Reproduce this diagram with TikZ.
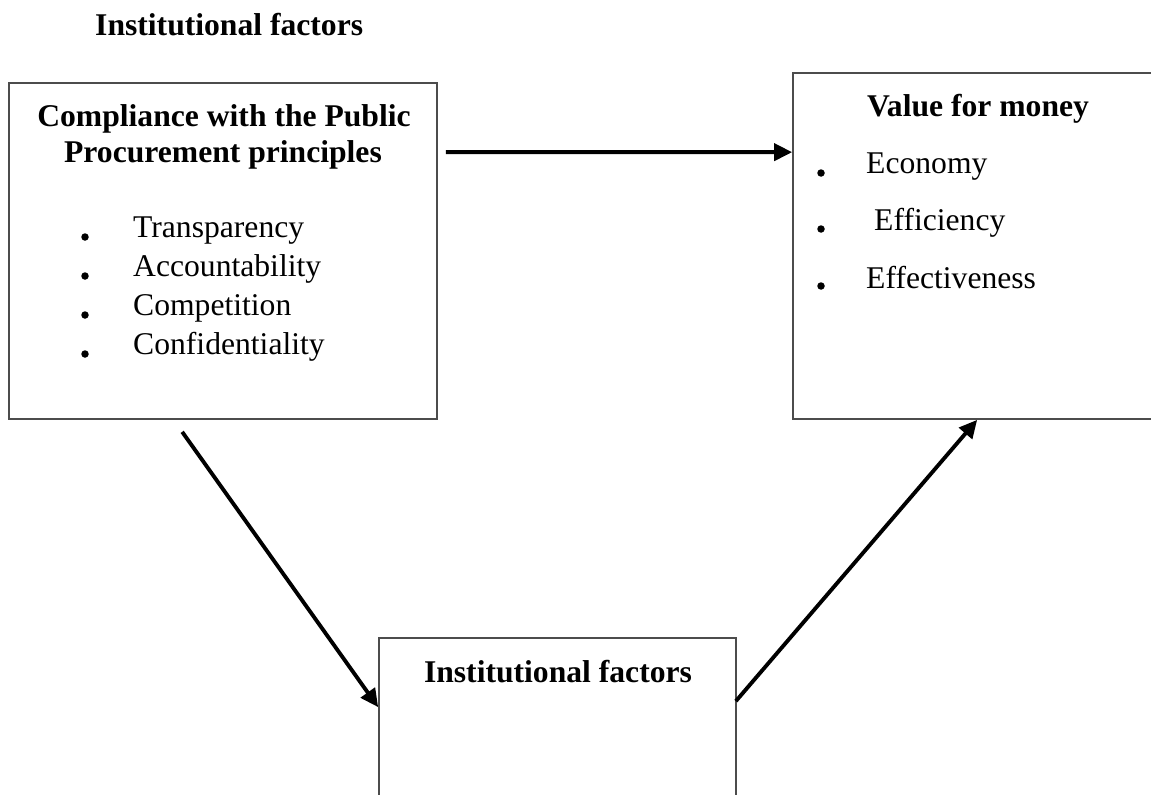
\documentclass[tikz,border=0pt]{standalone}
\usepackage{fontspec}
\setmainfont{Liberation Serif}
\usepackage{tikz}
\usetikzlibrary{positioning, arrows.meta}

\begin{document}
\begin{tikzpicture}
                [
                x=0.02cm, y=-0.02cm,
                box/.style={draw=black!70,line width=1pt,inner sep=0pt},
                head/.style={font=\bfseries\fontsize{18}{20.5}\selectfont,anchor=base},
                item/.style={font=\fontsize{18}{22}\selectfont,anchor=base west},
                link/.style={-{Triangle[length=0.36cm,width=0.34cm]},line width=2.2pt}
                ]
            \useasboundingbox (0,0) rectangle (1151,794);
            \node[head,anchor=base west] (title) at (89,36) {Institutional factors};
            % the three boxes
            \node[box,minimum width=8.56cm,minimum height=6.72cm] (comp) at (223,251) {};
            \node[box,minimum width=7.2cm,minimum height=6.92cm] (vfm) at (973,246) {};
            \node[box,minimum width=7.14cm,minimum height=3.24cm] (inst) at (557.5,719) {};
            % left box
            \node[head] (comph1) at (224,126) {Compliance with the Public};
            \node[head] (comph2) at (223,162) {Procurement principles};
            \node[item] (transp) at (127,237) {Transparency};
            \node[item] (account) at (127,276) {Accountability};
            \node[item] (compet) at (127,315) {Competition};
            \node[item] (confid) at (127,354) {Confidentiality};
            \foreach \y in {237,276,315,354}
                \fill (85,\y) circle[radius=0.075cm];
            % right box
            \node[head] (vfmh) at (978,116) {Value for money};
            \node[item] (econ) at (860,173) {Economy};
            \node[item] (effic) at (868,230) {Efficiency};
            \node[item] (effect) at (860,288) {Effectiveness};
            \foreach \y in {173,229,286}
                \fill (821,\y) circle[radius=0.075cm];
            % bottom box
            \node[head] (insth) at (558,682) {Institutional factors};
            % arrows
            \draw[link] ([shift={(8,70)}]comp.north east) -- ([shift={(0,80)}]vfm.north west);
            \draw[link] ([shift={(174,12)}]comp.south west) -- ([shift={(0,70)}]inst.north west);
            \draw[link] ([shift={(-1,64)}]inst.north east) -- ([shift={(185,0)}]vfm.south west);
            \end{tikzpicture}
\end{document}
